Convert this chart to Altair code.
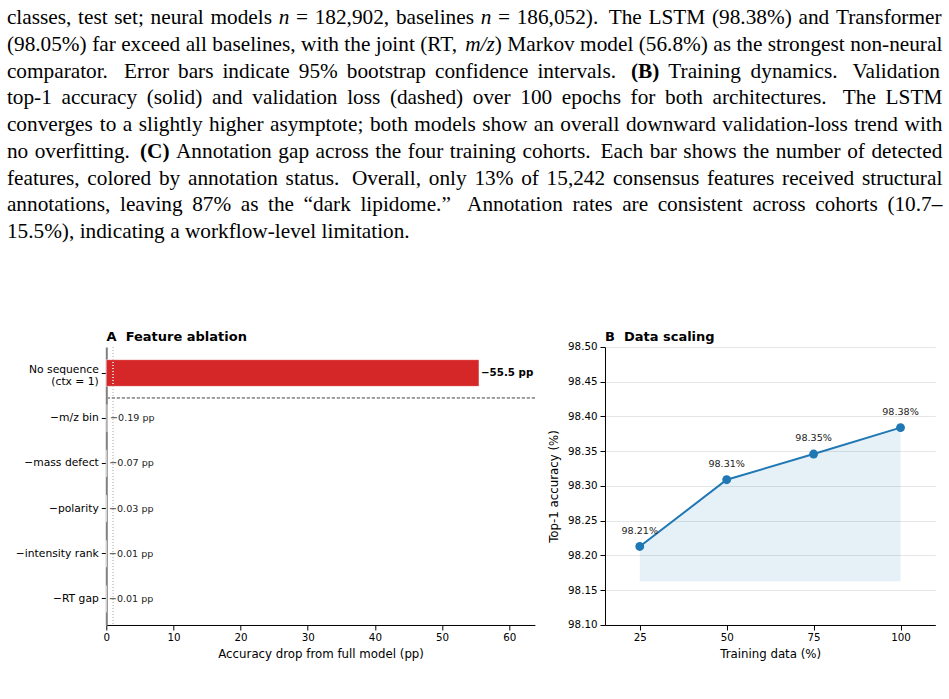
import altair as alt
import pandas as pd

# ---------------- data ----------------
features = ["No sequence\n(ctx = 1)", "\u2212m/z bin", "\u2212mass defect",
            "\u2212polarity", "\u2212intensity rank", "\u2212RT gap"]
acc_drop = [55.5, 0.19, 0.07, 0.03, 0.01, 0.01]
drop_ticks = [0, 10, 20, 30, 40, 50, 60]

train_pct = [25, 50, 75, 100]
top1_acc = [98.213, 98.309, 98.346, 98.384]
acc_floor = 98.163
acc_ticks = [98.10, 98.15, 98.20, 98.25, 98.30, 98.35, 98.40, 98.45, 98.50]

# caption text: _..._ italic, *...* bold
caption_lines = [
    "classes, test set; neural models _n_ = 182,902, baselines _n_ = 186,052). The LSTM (98.38%) and Transformer",
    "(98.05%) far exceed all baselines, with the joint (RT, _m/z_) Markov model (56.8%) as the strongest non-neural",
    "comparator. Error bars indicate 95% bootstrap confidence intervals. *(B)* Training dynamics. Validation",
    "top-1 accuracy (solid) and validation loss (dashed) over 100 epochs for both architectures. The LSTM",
    "converges to a slightly higher asymptote; both models show an overall downward validation-loss trend with",
    "no overfitting. *(C)* Annotation gap across the four training cohorts. Each bar shows the number of detected",
    "features, colored by annotation status. Overall, only 13% of 15,242 consensus features received structural",
    "annotations, leaving 87% as the \u201cdark lipidome.\u201d Annotation rates are consistent across cohorts (10.7\u2013",
    "15.5%), indicating a workflow-level limitation.",
]

# ---------------- layout ----------------
A_LEFT, A_TOP = 105.7, 347.0
A_W, A_H = 428.6, 278
B_W, B_H = 330.3, 278
GAP = 69.7
FS = 21.3
CAP_X0, CAP_W = 6.3, 935.5
CAP_BASE0, CAP_LH = 24.0, 26.75

# Times metrics (per 1000 em) for caption typesetting
TIMES = {' ': 250, '!': 333, '%': 833, '(': 333, ')': 333, ',': 250, '-': 333, '.': 250,
         '/': 278, ':': 278, ';': 278, '=': 564, '\u2013': 500, '\u201c': 444, '\u201d': 444,
         'A': 722, 'B': 667, 'C': 667, 'D': 722, 'E': 611, 'F': 556, 'G': 722, 'H': 722,
         'I': 333, 'J': 389, 'K': 722, 'L': 611, 'M': 889, 'N': 722, 'O': 722, 'P': 556,
         'Q': 722, 'R': 667, 'S': 556, 'T': 611, 'U': 722, 'V': 722, 'W': 944, 'X': 722,
         'Y': 722, 'Z': 611,
         'a': 444, 'b': 500, 'c': 444, 'd': 500, 'e': 444, 'f': 333, 'g': 500, 'h': 500,
         'i': 278, 'j': 278, 'k': 500, 'l': 278, 'm': 778, 'n': 500, 'o': 500, 'p': 500,
         'q': 500, 'r': 333, 's': 389, 't': 278, 'u': 500, 'v': 500, 'w': 722, 'x': 500,
         'y': 500, 'z': 444}
for d in "0123456789":
    TIMES[d] = 500
TIMES_I = {'n': 500, 'm': 722, '/': 278, 'z': 389}
TIMES_B = {'(': 333, ')': 333, 'B': 667, 'C': 722}


def seg_width(text, style):
    tab = {'i': TIMES_I, 'b': TIMES_B}.get(style, {})
    return sum(tab.get(c, TIMES.get(c, 500)) for c in text) * FS / 1000.0


def parse_word(word):
    segs, cur, style = [], "", 'r'
    for c in word:
        if c in "_*":
            if cur:
                segs.append((cur, style))
            cur = ""
            new = 'i' if c == '_' else 'b'
            style = 'r' if style == new else new
        else:
            cur += c
    if cur:
        segs.append((cur, style))
    return segs


rows = []
for k, line in enumerate(caption_lines):
    words = [parse_word(w) for w in line.split(' ')]
    widths = [sum(seg_width(t, s) for t, s in w) for w in words]
    plain = ["".join(t for t, s in w) for w in words]
    base, weight = [], []
    for w in plain[:-1]:
        sent = w.endswith('.') or w.endswith('.\u201d')
        base.append(FS * (0.36 if sent else 0.25))
        weight.append(2.0 if sent else 1.0)
    if k < len(caption_lines) - 1:
        extra = (CAP_W - sum(widths) - sum(base)) / sum(weight)
    else:
        extra = 0.0
    x = CAP_X0
    yb = CAP_BASE0 + k * CAP_LH
    for j, w in enumerate(words):
        xs = x
        for t, s in w:
            rows.append({'text': t, 'px': xs - A_LEFT, 'py': yb - A_TOP, 'style': s})
            xs += seg_width(t, s)
        if j < len(words) - 1:
            x += widths[j] + base[j] + weight[j] * extra
cap_df = pd.DataFrame(rows)

# ---------------- panel A ----------------
a_df = pd.DataFrame({'feature': features, 'drop': acc_drop})

xA = alt.X('drop:Q', scale=alt.Scale(domain=[0, 63.825], nice=False, zero=True),
           axis=alt.Axis(values=drop_ticks, title='Accuracy drop from full model (pp)',
                         orient='bottom', labelFlush=False))
yA = alt.Y('feature:N', sort=features,
           scale=alt.Scale(paddingInner=0.409, paddingOuter=0.28),
           axis=alt.Axis(title=None, orient='left', labelExpr="split(datum.label, '\\n')",
                         labelLineHeight=12.7, labelFontSize=10.75,
                         labelOffset=alt.condition("indexof(datum.value, 'No sequence') >= 0",
                                                   alt.value(-3.5), alt.value(0)),
                         domainColor='#808080', domainWidth=2))

bars = alt.Chart(a_df).mark_bar(stroke='white', strokeWidth=0.5).encode(
    x=xA, y=yA,
    color=alt.condition(alt.datum.drop > 1, alt.value('#d62728'), alt.value('#7f7f7f')))

dot_rule = alt.Chart(a_df).mark_rule(color='#d0d0d0', strokeWidth=0.8, strokeDash=[1, 2]).encode(
    x=alt.datum(1))

sep_rule = alt.Chart(a_df).mark_rule(color='#9a9a9a', strokeWidth=0.8, strokeDash=[3, 2],
                                     yOffset=-7).encode(
    y=alt.YDatum(datum=features[1], bandPosition=0))

lab_expr = "'\u2212' + (datum.drop >= 1 ? format(datum.drop, '.1f') : format(datum.drop, '.2f')) + ' pp'"
lab_base = alt.Chart(a_df).transform_calculate(lab=lab_expr).encode(x=xA, y=yA, text='lab:N')
lab_big = lab_base.transform_filter(alt.datum.drop > 1).mark_text(
    align='left', baseline='middle', dx=2, font='DejaVu Sans', fontSize=10.3,
    fontWeight='bold', color='black')
lab_small = lab_base.transform_filter(alt.datum.drop <= 1).mark_text(
    align='left', baseline='middle', dx=2.5, font='DejaVu Sans', fontSize=9.6, color='#222222')

title_df = pd.DataFrame({'t': ['A\u00a0 Feature ablation', 'B\u00a0 Data scaling']})
titleA = alt.Chart(title_df).transform_filter(alt.datum.t[0] == 'A').mark_text(
    align='left', baseline='alphabetic', font='DejaVu Sans', fontSize=13, fontWeight='bold',
    color='black').encode(x=alt.value(0.3), y=alt.value(-6.3), text='t:N')

A_main = alt.layer(bars, dot_rule, sep_rule, lab_big, lab_small, titleA)

cap_base = alt.Chart(cap_df).encode(
    x=alt.X('px:Q', scale=None, axis=None),
    y=alt.Y('py:Q', scale=None, axis=None),
    text='text:N')
cap_r = cap_base.transform_filter(alt.datum.style == 'r').mark_text(
    align='left', baseline='alphabetic', font='Liberation Serif', fontSize=FS, color='black')
cap_i = cap_base.transform_filter(alt.datum.style == 'i').mark_text(
    align='left', baseline='alphabetic', font='Liberation Serif', fontSize=FS,
    fontStyle='italic', color='black')
cap_b = cap_base.transform_filter(alt.datum.style == 'b').mark_text(
    align='left', baseline='alphabetic', font='Liberation Serif', fontSize=FS,
    fontWeight='bold', color='black')

A = alt.layer(A_main, cap_r, cap_i, cap_b).resolve_scale(
    x='independent', y='independent').properties(width=A_W, height=A_H)

# ---------------- panel B ----------------
b_df = pd.DataFrame({'pct': train_pct, 'acc': top1_acc})
xB = alt.X('pct:Q', scale=alt.Scale(domain=[15, 110], nice=False, zero=False),
           axis=alt.Axis(values=train_pct, title='Training data (%)', orient='bottom',
                         labelFlush=False))
yB = alt.Y('acc:Q', scale=alt.Scale(domain=[98.10, 98.50], nice=False, zero=False),
           axis=alt.Axis(values=acc_ticks, format='.2f', title='Top-1 accuracy (%)',
                         orient='left', grid=True, gridColor='#e6e6e6', gridWidth=1,
                         labelFlush=False, titlePadding=8.5))

area = alt.Chart(b_df).mark_area(color='#1f77b4', opacity=0.11).encode(
    x=xB, y=yB, y2=alt.datum(acc_floor))
line = alt.Chart(b_df).mark_line(color='#1f77b4', strokeWidth=2).encode(x=xB, y=yB)
pts = alt.Chart(b_df).mark_circle(color='#1f77b4', size=78, opacity=1).encode(x=xB, y=yB)
labs = alt.Chart(b_df).transform_calculate(
    lab="format(datum.acc, '.2f') + '%'").mark_text(
    align='center', baseline='alphabetic', dy=-12.7, font='DejaVu Sans', fontSize=9.6,
    color='#222222').encode(x=xB, y=yB, text='lab:N')
titleB = alt.Chart(title_df).transform_filter(alt.datum.t[0] == 'B').mark_text(
    align='left', baseline='alphabetic', font='DejaVu Sans', fontSize=13, fontWeight='bold',
    color='black').encode(x=alt.value(0), y=alt.value(-6.3), text='t:N')

B = alt.layer(area, line, pts, labs, titleB).properties(width=B_W, height=B_H)

chart = alt.hconcat(A, B, spacing=GAP, bounds='flush').properties(
    padding={'left': CAP_X0, 'top': 7, 'right': 4, 'bottom': 6}
).configure_view(stroke=None).configure_axis(
    labelFont='DejaVu Sans', titleFont='DejaVu Sans', labelFontSize=10.3, titleFontSize=11.8,
    titleFontWeight='normal', labelColor='black', titleColor='black', tickColor='black',
    domainColor='black', domainWidth=1, tickWidth=1, tickSize=5, labelPadding=3,
    titlePadding=5.5, grid=False, labelOverlap=False)

chart.save("out.html", embed_options={"renderer": "svg", "actions": False})
